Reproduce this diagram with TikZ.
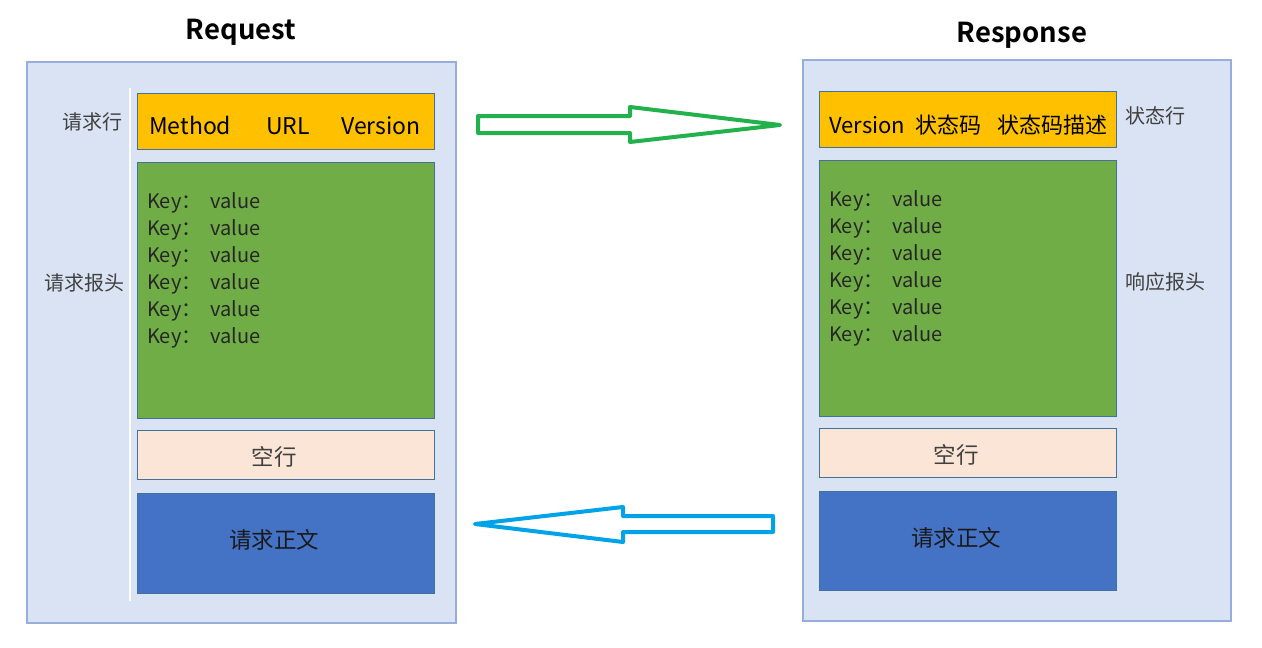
\documentclass[tikz,border=0pt]{standalone}
\usepackage{fontspec}
\setmainfont{Noto Sans CJK SC}
\newfontfamily\titlefont{Noto Sans CJK SC Bold}
\definecolor{panelfill}{HTML}{DAE3F3}
\definecolor{paneldraw}{HTML}{97AEDA}
\definecolor{boxdraw}{HTML}{41719C}
\definecolor{orangefill}{HTML}{FFC000}
\definecolor{greenfill}{HTML}{70AD47}
\definecolor{peachfill}{HTML}{FBE5D6}
\definecolor{bluefill}{HTML}{4472C4}
\definecolor{greenarrow}{HTML}{22B14C}
\definecolor{bluearrow}{HTML}{00A2E8}
\definecolor{labelgray}{HTML}{404040}
\tikzset{
  panel/.style={draw=paneldraw, line width=1.8pt, fill=panelfill, rectangle, inner sep=0pt, outer sep=0pt},
  box/.style={draw=boxdraw, line width=1pt, rectangle, inner sep=0pt, outer sep=0pt, minimum width=297pt},
  sidelabel/.style={text=labelgray, font=\fontsize{20}{24}\selectfont, inner sep=0pt},
  boxtext/.style={font=\fontsize{23}{27}\selectfont, inner sep=0pt, anchor=base west},
  statustext/.style={font=\fontsize{22}{26}\selectfont, inner sep=0pt, anchor=base west},
  centertext/.style={font=\fontsize{22.5}{26}\selectfont, inner sep=0pt},
  kv/.style={font=\fontsize{20}{27}\selectfont, inner sep=0pt, anchor=north west, align=left, text=black!85},
  titletext/.style={font=\titlefont\fontsize{27.5}{31}\selectfont, inner sep=0pt},
  bigarrow/.style={line width=4pt, line join=round, fill=white}
}
\newcommand{\kvline}{\makebox[63pt][l]{Key：}value}
\begin{document}
\begin{tikzpicture}[x=1pt,y=-1pt]
\useasboundingbox (0,0) rectangle (1262,648);
% ---------- Request ----------
\node[titletext] (reqtitle) at (241,32) {Request};
\node[panel, minimum width=429pt, minimum height=561pt] (reqpanel) at (241.5,342.5) {};
\draw[white, line width=1.5pt] (130,88) coordinate (wl1) -- (130,601) coordinate (wl2);
\node[box, fill=orangefill, minimum height=56pt] (reqline) at (285.5,121) {};
\node[box, fill=greenfill, minimum height=256pt] (reqhead) at (285.5,290) {};
\node[box, fill=peachfill, minimum height=49pt] (reqblank) at (285.5,454.5) {};
\node[box, fill=bluefill, minimum height=100pt] (reqbody) at (285.5,543) {};
\node[boxtext] (m1) at (149,134) {Method};
\node[boxtext] (m2) at (266,134) {URL};
\node[boxtext] (m3) at (341,134) {Version};
\node[kv] (reqkv) at (147,192) {\kvline\\\kvline\\\kvline\\\kvline\\\kvline\\\kvline};
\node[centertext, text=labelgray] (reqblanktext) at (274,457) {空行};
\node[centertext, text=black!90] (reqbodytext) at (274,540) {请求正文};
\node[sidelabel] (lab1) at (92,122) {请求行};
\node[sidelabel] (lab2) at (85,283) {请求报头};
% ---------- Response ----------
\node[titletext] (restitle) at (1022,35) {Response};
\node[panel, minimum width=428pt, minimum height=561pt] (respanel) at (1017,340.5) {};
\node[box, fill=orangefill, minimum height=56pt] (resline) at (967.5,119) {};
\node[box, fill=greenfill, minimum height=256pt] (reshead) at (967.5,288) {};
\node[box, fill=peachfill, minimum height=49pt] (resblank) at (967.5,452.5) {};
\node[box, fill=bluefill, minimum height=99pt] (resbody) at (967.5,540.5) {};
\node[statustext] (v1) at (829,133) {Version};
\node[statustext] (v2) at (915,133) {状态码};
\node[statustext] (v3) at (997,133) {状态码描述};
\node[kv] (reskv) at (829,190) {\kvline\\\kvline\\\kvline\\\kvline\\\kvline\\\kvline};
\node[centertext, text=labelgray] (resblanktext) at (956,455) {空行};
\node[centertext, text=black!90] (resbodytext) at (956,538) {请求正文};
\node[sidelabel] (lab3) at (1155,116) {状态行};
\node[sidelabel] (lab4) at (1165,282) {响应报头};
% ---------- Arrows ----------
\draw[bigarrow, draw=greenarrow] (478,116) -- (630,116) -- (630,107) -- (780,125) -- (630,142) -- (630,133) -- (478,133) -- cycle;
\draw[bigarrow, draw=bluearrow] (773,516) -- (623,516) -- (623,507) -- (475,524) -- (623,542) -- (623,532) -- (773,532) -- cycle;
\end{tikzpicture}
\end{document}
